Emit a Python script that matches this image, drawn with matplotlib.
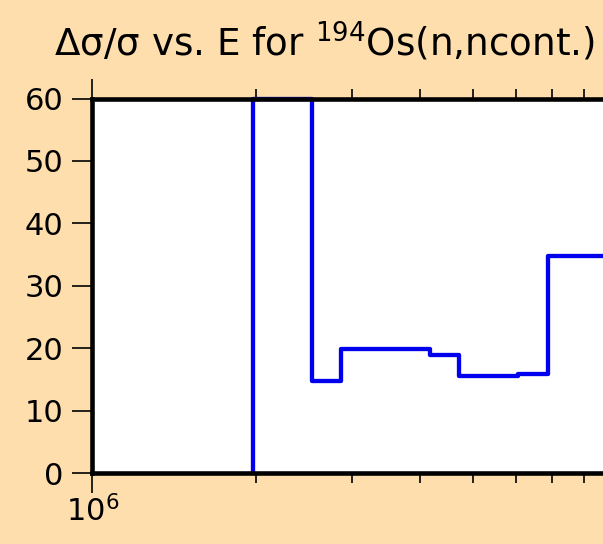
"""Relative uncertainty step plot for 194Os(n,ncont.)."""

import matplotlib as mpl
import matplotlib.pyplot as plt
from matplotlib.ticker import LogLocator, NullFormatter

# bin edges (eV) and relative uncertainty (%) per bin
energy_edges = [1.97e6, 2.53e6, 2.865e6, 3.24e6, 3.68e6, 4.18e6, 4.73e6,
                5.38e6, 6.07e6, 6.87e6, 7.83e6, 1.0e7]
rel_unc = [60.0, 14.7, 19.9, 19.9, 19.9, 18.85, 15.55, 15.55, 15.85, 34.7, 34.7]
y_ticks = [0, 10, 20, 30, 40, 50, 60]
x_major = [1e6, 1e7]
x_major_labels = [r"$10^{6}$", ""]

BG = "#FFDEAD"

mpl.rcParams.update({
    "font.family": "DejaVu Sans",
    "mathtext.fontset": "dejavusans",
})

fig = plt.figure(figsize=(6.03, 5.44), dpi=100, facecolor=BG)
ax = fig.add_axes([0.1531, 0.1305, 1.1737, 0.6884])
ax.set_facecolor("white")

xs = [energy_edges[0]] + energy_edges
ys = [0.0] + rel_unc + [rel_unc[-1]]
ax.step(xs, ys, where="post", color="#0000EE", linewidth=3.1, zorder=3,
        clip_on=False)

ax.set_xscale("log")
ax.set_xlim(1e6, 2e7)
ax.set_ylim(0, 60)
ax.set_yticks(y_ticks)
ax.set_xticks(x_major, x_major_labels)
ax.xaxis.set_minor_locator(LogLocator(base=10, subs=range(2, 10)))
ax.xaxis.set_minor_formatter(NullFormatter())

for side in ax.spines.values():
    side.set_linewidth(3.3)
    side.set_zorder(4)

ax.tick_params(axis="x", which="major", direction="out", length=14.5, width=1.2,
               top=True, bottom=True, labelsize=22, pad=1.5)
ax.tick_params(axis="x", which="minor", direction="out", length=7.5, width=1.2,
               top=True, bottom=True)
ax.tick_params(axis="y", which="major", direction="out", length=14.5, width=1.2,
               labelsize=22, pad=6.5)

fig.text(324.5 / 603, 1 - 55.7 / 544,
         r"Δσ/σ vs. E for $^{194}$Os(n,ncont.)",
         ha="center", va="baseline", fontsize=26.8)

fig.savefig("out.png", dpi=100, facecolor=BG)
